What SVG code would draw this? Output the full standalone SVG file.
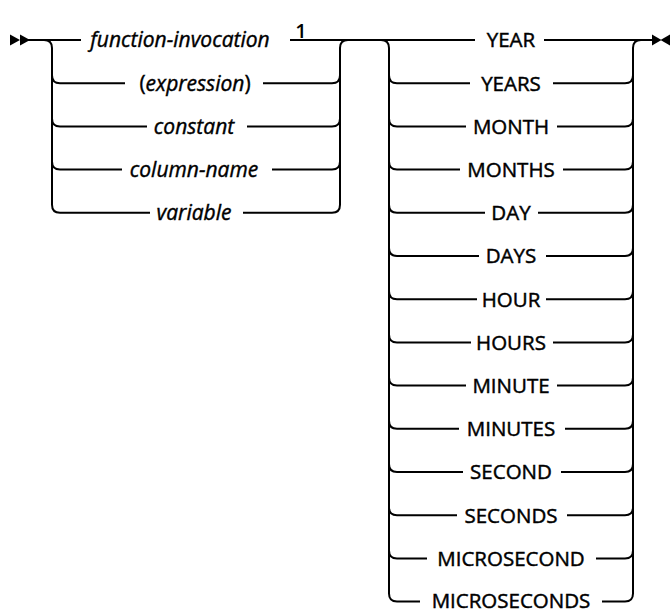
<svg xmlns="http://www.w3.org/2000/svg" width="671" height="610" viewBox="0 0 671 610">
<style>
.ln{fill:none;stroke:#000;stroke-width:2;stroke-linecap:butt;stroke-linejoin:round}
.mk{fill:#000;stroke:none}
.kw{font-family:"Open Sans","Liberation Sans",sans-serif;font-size:20.5px;font-weight:400;fill:#000;stroke:#000;stroke-width:0.45px;text-anchor:middle}
.var{font-family:"Open Sans","Liberation Sans",sans-serif;font-size:21px;font-style:italic;font-weight:400;fill:#000;stroke:#000;stroke-width:0.4px;text-anchor:middle}
.up{font-style:normal}
.fn{font-family:"Open Sans","Liberation Sans",sans-serif;font-size:20px;font-weight:600;fill:#000;text-anchor:middle}
</style>
<rect width="671" height="610" fill="#fff"/>
<g id="connectors">
  <polygon class="mk" points="10,34.5 20,40 10,45.5"/>
  <polygon class="mk" points="20,34.5 30,40 20,45.5"/>
  <polygon class="mk" points="652,34.5 661.5,40 652,45.5"/>
  <polygon class="mk" points="670,34.5 660.5,40 670,45.5"/>
  <path class="ln" d="M28 40 H81"/>
  <path class="ln" d="M290 40 H475"/>
  <path class="ln" d="M544 40 H653"/>
  <path class="ln" d="M44 40 Q52 40 52 48 V204.8 Q52 212.8 60 212.8 H150"/>
  <path class="ln" d="M52 75.2 Q52 83.2 60 83.2 H125"/>
  <path class="ln" d="M52 118.4 Q52 126.4 60 126.4 H147"/>
  <path class="ln" d="M52 161.6 Q52 169.6 60 169.6 H122"/>
  <path class="ln" d="M348 40 Q340 40 340 48 V204.8 Q340 212.8 332 212.8 H243"/>
  <path class="ln" d="M263 83.2 H332 Q340 83.2 340 75.2"/>
  <path class="ln" d="M247 126.4 H332 Q340 126.4 340 118.4"/>
  <path class="ln" d="M272 169.6 H332 Q340 169.6 340 161.6"/>
  <path class="ln" d="M381 40 Q389 40 389 48 V593.6 Q389 601.6 397 601.6 H420"/>
  <path class="ln" d="M389 75.2 Q389 83.2 397 83.2 H470"/>
  <path class="ln" d="M389 118.4 Q389 126.4 397 126.4 H466"/>
  <path class="ln" d="M389 161.6 Q389 169.6 397 169.6 H460"/>
  <path class="ln" d="M389 204.8 Q389 212.8 397 212.8 H485"/>
  <path class="ln" d="M389 248 Q389 256 397 256 H479"/>
  <path class="ln" d="M389 291.2 Q389 299.2 397 299.2 H477"/>
  <path class="ln" d="M389 334.4 Q389 342.4 397 342.4 H471"/>
  <path class="ln" d="M389 377.6 Q389 385.6 397 385.6 H466"/>
  <path class="ln" d="M389 420.8 Q389 428.8 397 428.8 H459"/>
  <path class="ln" d="M389 464 Q389 472 397 472 H463"/>
  <path class="ln" d="M389 507.2 Q389 515.2 397 515.2 H457"/>
  <path class="ln" d="M389 550.4 Q389 558.4 397 558.4 H427"/>
  <path class="ln" d="M641 40 Q633 40 633 48 V593.6 Q633 601.6 625 601.6 H602"/>
  <path class="ln" d="M553 83.2 H625 Q633 83.2 633 75.2"/>
  <path class="ln" d="M557 126.4 H625 Q633 126.4 633 118.4"/>
  <path class="ln" d="M563 169.6 H625 Q633 169.6 633 161.6"/>
  <path class="ln" d="M538 212.8 H625 Q633 212.8 633 204.8"/>
  <path class="ln" d="M546 256 H625 Q633 256 633 248"/>
  <path class="ln" d="M546 299.2 H625 Q633 299.2 633 291.2"/>
  <path class="ln" d="M553 342.4 H625 Q633 342.4 633 334.4"/>
  <path class="ln" d="M557 385.6 H625 Q633 385.6 633 377.6"/>
  <path class="ln" d="M565 428.8 H625 Q633 428.8 633 420.8"/>
  <path class="ln" d="M561 472 H625 Q633 472 633 464"/>
  <path class="ln" d="M567 515.2 H625 Q633 515.2 633 507.2"/>
  <path class="ln" d="M596 558.4 H625 Q633 558.4 633 550.4"/>
</g>
<g id="function-invocation"><text class="var" x="180" y="47.4">function-invocation</text><text class="fn" x="301" y="37.5">1</text></g>
<g id="expression"><text class="var" x="195" y="90.6"><tspan class="up">(</tspan>expression<tspan class="up">)</tspan></text></g>
<g id="constant"><text class="var" x="194" y="133.8">constant</text></g>
<g id="column-name"><text class="var" x="194" y="177">column-name</text></g>
<g id="variable"><text class="var" x="194" y="220.2">variable</text></g>
<g id="YEAR"><text class="kw" x="511" y="47.4">YEAR</text></g>
<g id="YEARS"><text class="kw" x="511" y="90.6">YEARS</text></g>
<g id="MONTH"><text class="kw" x="511" y="133.8">MONTH</text></g>
<g id="MONTHS"><text class="kw" x="511" y="177">MONTHS</text></g>
<g id="DAY"><text class="kw" x="511" y="220.2">DAY</text></g>
<g id="DAYS"><text class="kw" x="511" y="263.4">DAYS</text></g>
<g id="HOUR"><text class="kw" x="511" y="306.6">HOUR</text></g>
<g id="HOURS"><text class="kw" x="511" y="349.8">HOURS</text></g>
<g id="MINUTE"><text class="kw" x="511" y="393">MINUTE</text></g>
<g id="MINUTES"><text class="kw" x="511" y="436.2">MINUTES</text></g>
<g id="SECOND"><text class="kw" x="511" y="479.4">SECOND</text></g>
<g id="SECONDS"><text class="kw" x="511" y="522.6">SECONDS</text></g>
<g id="MICROSECOND"><text class="kw" x="511" y="565.8">MICROSECOND</text></g>
<g id="MICROSECONDS"><text class="kw" x="511" y="608.4">MICROSECONDS</text></g>
</svg>
